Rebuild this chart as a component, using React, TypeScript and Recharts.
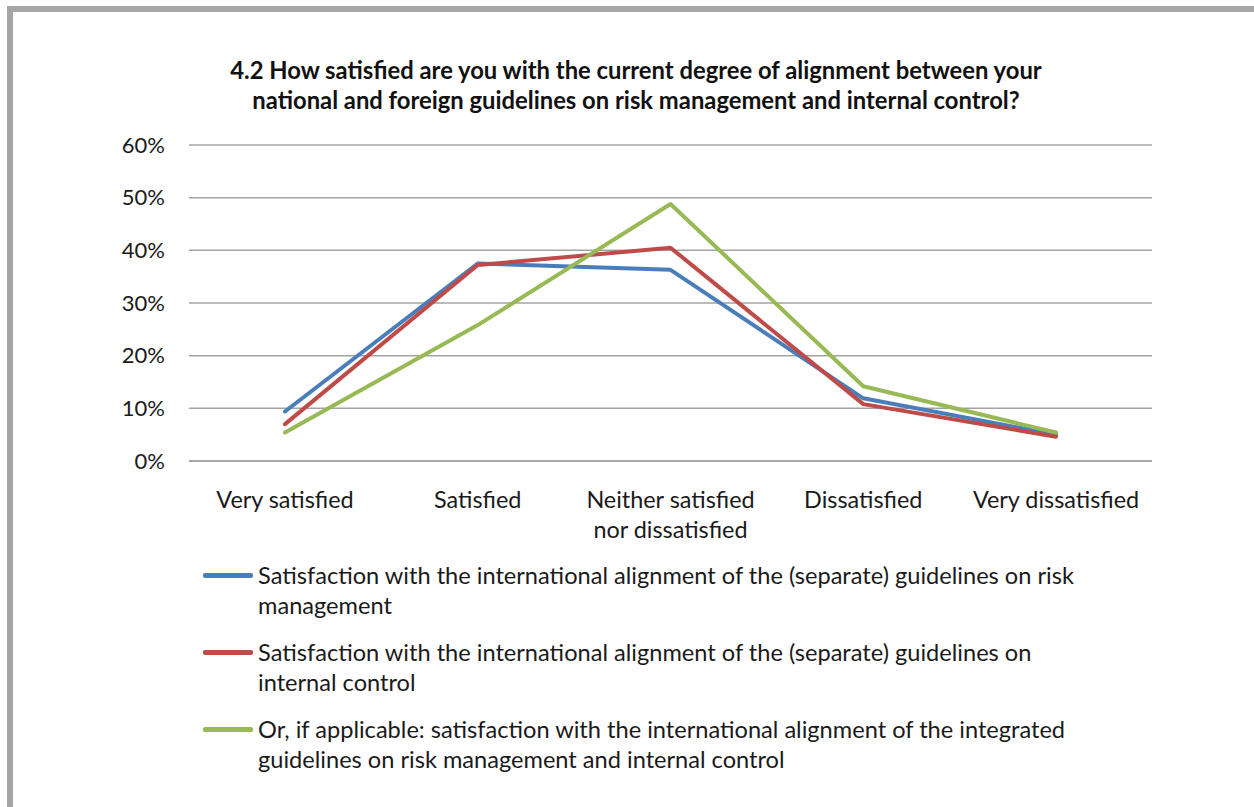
import React from 'react'
import { LineChart, Line, XAxis, YAxis, CartesianGrid } from 'recharts'

// values in percent
const categories = [
    'Very satisfied',
    'Satisfied',
    'Neither satisfied\nnor dissatisfied',
    'Dissatisfied',
    'Very dissatisfied',
]
const riskManagement = [9.4, 37.5, 36.3, 11.9, 5.0]
const internalControl = [7.0, 37.2, 40.5, 10.8, 4.6]
const integrated = [5.4, 25.8, 48.8, 14.2, 5.4]
const yTicks = [0, 10, 20, 30, 40, 50, 60]

const seriesKeys = ['riskManagement', 'internalControl', 'integrated']
const seriesNames = [
    'Satisfaction with the international alignment of the (separate) guidelines on risk management',
    'Satisfaction with the international alignment of the (separate) guidelines on internal control',
    'Or, if applicable: satisfaction with the international alignment of the integrated guidelines on risk management and internal control',
]
const seriesColors = ['#4a7ebb', '#be4b48', '#98b954']

const titleLines = [
    '4.2 How satisfied are you with the current degree of alignment between your',
    'national and foreign guidelines on risk management and internal control?',
]

const FONT = 'Lato, "Open Sans", sans-serif'
const GRID = '#a3a3a3'

const data = categories.map((c, i) => ({
    category: c,
    riskManagement: riskManagement[i],
    internalControl: internalControl[i],
    integrated: integrated[i],
}))

function CategoryTick(props: any) {
    const { x, y, payload } = props
    const lines = String(payload.value).split('\n')
    return (
        <text x={x} y={y + 47} textAnchor="middle" fill="#1a1a1a" fontSize={23.4} fontFamily={FONT}>
            {lines.map((l, i) => (
                <tspan key={i} x={x} dy={i === 0 ? 0 : 30}>{l}</tspan>
            ))}
        </text>
    )
}

export default function App() {
    return (
        <div style={{ position: 'absolute', left: 0, top: 0, width: 1254, height: 807, background: '#fff', fontFamily: FONT, overflow: 'hidden' }}>
            {/* frame edges visible in the crop */}
            <div style={{ position: 'absolute', left: 7, top: 6, width: 1247, height: 6, background: '#a6a6a6' }} />
            <div style={{ position: 'absolute', left: 7, top: 6, width: 6, height: 801, background: '#a6a6a6' }} />

            <div style={{ position: 'absolute', left: 136, top: 55, width: 1000, textAlign: 'center', fontWeight: 700, fontSize: 23.8, lineHeight: '30px', color: '#111', whiteSpace: 'nowrap' }}>
                {titleLines.map((t, i) => <div key={i}>{t}</div>)}
            </div>

            <div style={{ position: 'absolute', left: 0, top: 0 }}>
                <LineChart width={1254} height={807} data={data} margin={{ top: 145, right: 102, bottom: 306, left: 0 }}>
                    <CartesianGrid vertical={false} stroke={GRID} strokeWidth={1.5} />
                    <XAxis
                        dataKey="category"
                        height={40}
                        padding={{ left: 96, right: 96 }}
                        axisLine={{ stroke: GRID, strokeWidth: 1.5 }}
                        tickLine={false}
                        tickSize={0}
                        tickMargin={0}
                        interval={0}
                        tick={<CategoryTick />}
                    />
                    <YAxis
                        width={189}
                        domain={[0, 60]}
                        ticks={yTicks}
                        axisLine={false}
                        tickLine={false}
                        tickSize={0}
                        tickMargin={24}
                        tickFormatter={(v: number) => `${v}%`}
                        tick={{ fontSize: 22, fill: '#1a1a1a', fontFamily: FONT }}
                    />
                    {seriesKeys.map((k, i) => (
                        <Line
                            key={k}
                            type="linear"
                            dataKey={k}
                            name={seriesNames[i]}
                            stroke={seriesColors[i]}
                            strokeWidth={4}
                            strokeLinejoin="round"
                            strokeLinecap="round"
                            dot={false}
                            activeDot={false}
                            isAnimationActive={false}
                        />
                    ))}
                </LineChart>
            </div>

            <div style={{ position: 'absolute', left: 203, top: 560, width: 920 }}>
                {seriesNames.map((n, i) => (
                    <div key={i} style={{ display: 'flex', alignItems: 'flex-start', marginBottom: 17 }}>
                        <div style={{ width: 50, height: 4.5, borderRadius: 2, background: seriesColors[i], marginTop: 13, marginRight: 5, flex: 'none' }} />
                        <div style={{ fontSize: 23.6, lineHeight: '30px', color: '#1a1a1a', width: 850 }}>{n}</div>
                    </div>
                ))}
            </div>
        </div>
    )
}
